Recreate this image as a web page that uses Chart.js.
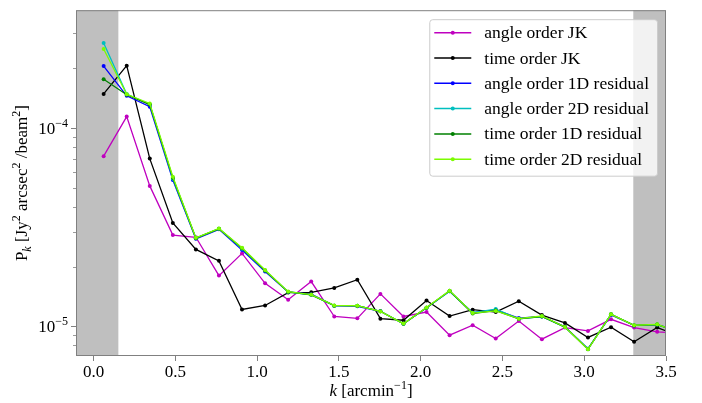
<!DOCTYPE html>
<html>
<head>
<meta charset="utf-8">
<script src="https://cdn.jsdelivr.net/npm/chart.js@4/dist/chart.umd.min.js"></script>
<style>
  body { margin: 0; background: #fff; }
  #wrap { width: 702px; height: 403px; }
</style>
</head>
<body>
<div id="wrap"><canvas id="myChart"></canvas></div>
<script>
// k bins (arcmin^-1); the last one sits just past the axis and is clipped
const kValues = [0.062, 0.203, 0.344, 0.485, 0.626, 0.767, 0.908, 1.049, 1.190, 1.331, 1.472, 1.613, 1.754,
  1.895, 2.036, 2.177, 2.318, 2.459, 2.600, 2.741, 2.882, 3.023, 3.164, 3.305, 3.446, 3.587];

const angleJK = [7.20e-5, 1.14e-4, 5.10e-5, 2.88e-5, 2.81e-5, 1.80e-5, 2.33e-5, 1.645e-5, 1.36e-5, 1.68e-5, 1.12e-5, 1.096e-5, 1.456e-5,
  1.12e-5, 1.179e-5, 9.02e-6, 1.012e-5, 8.68e-6, 1.063e-5, 8.61e-6, 9.85e-6, 9.47e-6, 1.084e-5, 9.85e-6, 9.37e-6, 9.2e-6];
const timeJK = [1.484e-4, 2.06e-4, 7.00e-5, 3.32e-5, 2.44e-5, 2.136e-5, 1.216e-5, 1.273e-5, 1.478e-5, 1.483e-5, 1.56e-5, 1.717e-5, 1.092e-5,
  1.072e-5, 1.349e-5, 1.126e-5, 1.212e-5, 1.179e-5, 1.338e-5, 1.139e-5, 1.039e-5, 8.78e-6, 9.89e-6, 8.35e-6, 9.85e-6, 8.9e-6];
const angle1D = [2.05e-4, 1.451e-4, 1.279e-4, 5.46e-5, 2.76e-5, 3.08e-5, 2.42e-5, 1.89e-5, 1.49e-5, 1.45e-5, 1.27e-5, 1.26e-5, 1.19e-5,
  1.03e-5, 1.24e-5, 1.50e-5, 1.17e-5, 1.21e-5, 1.10e-5, 1.12e-5, 9.95e-6, 7.7e-6, 1.14e-5, 1.01e-5, 1.02e-5, 9.4e-6];
const angle2D = [2.68e-4, 1.48e-4, 1.313e-4, 5.54e-5, 2.78e-5, 3.10e-5, 2.46e-5, 1.91e-5, 1.49e-5, 1.44e-5, 1.27e-5, 1.27e-5, 1.19e-5,
  1.03e-5, 1.24e-5, 1.50e-5, 1.17e-5, 1.22e-5, 1.09e-5, 1.12e-5, 9.9e-6, 7.7e-6, 1.15e-5, 1.01e-5, 1.02e-5, 9.3e-6];
const time1D = [1.757e-4, 1.47e-4, 1.31e-4, 5.60e-5, 2.78e-5, 3.10e-5, 2.47e-5, 1.91e-5, 1.49e-5, 1.44e-5, 1.27e-5, 1.27e-5, 1.19e-5,
  1.03e-5, 1.24e-5, 1.51e-5, 1.16e-5, 1.20e-5, 1.09e-5, 1.12e-5, 9.9e-6, 7.66e-6, 1.15e-5, 1.01e-5, 1.02e-5, 9.3e-6];
const time2D = [2.50e-4, 1.478e-4, 1.328e-4, 5.67e-5, 2.79e-5, 3.11e-5, 2.49e-5, 1.92e-5, 1.495e-5, 1.445e-5, 1.273e-5, 1.269e-5, 1.188e-5,
  1.031e-5, 1.244e-5, 1.512e-5, 1.165e-5, 1.195e-5, 1.092e-5, 1.126e-5, 9.92e-6, 7.65e-6, 1.148e-5, 1.012e-5, 1.023e-5, 9.3e-6];

const seriesLabels = ["angle order JK", "time order JK", "angle order 1D residual",
  "angle order 2D residual", "time order 1D residual", "time order 2D residual"];
const seriesData = [angleJK, timeJK, angle1D, angle2D, time1D, time2D];
const seriesColors = ["#bf00bf", "#000000", "#0000ff", "#00bfbf", "#008000", "#7cfc00"];

const xTicks = [0, 0.5, 1.0, 1.5, 2.0, 2.5, 3.0, 3.5];
const yMajor = [1e-5, 1e-4];
const yMinor = [8e-6, 9e-6, 2e-5, 3e-5, 4e-5, 5e-5, 6e-5, 7e-5, 8e-5, 9e-5, 2e-4, 3e-4];
const xRange = [-0.107, 3.5];
const yRange = [7.08e-6, 3.92e-4];
const maskLow = 0.152;   // shaded k ranges
const maskHigh = 3.30;

const FONT = "'Liberation Serif', 'Times New Roman', serif";
const AXIS = "#808080";

// draw a row of text pieces (sub/superscripts) starting at x, or centred / right aligned
function drawRuns(ctx, runs, x, y, align) {
  let w = 0;
  runs.forEach(r => {
    ctx.font = (r.italic ? "italic " : "") + r.size + "px " + FONT;
    r.w = ctx.measureText(r.t).width;
    w += r.w;
  });
  let cx = align === "center" ? x - w / 2 : align === "right" ? x - w : x;
  ctx.textBaseline = "alphabetic";
  ctx.textAlign = "left";
  runs.forEach(r => {
    ctx.font = (r.italic ? "italic " : "") + r.size + "px " + FONT;
    ctx.fillText(r.t, cx, y + (r.dy || 0));
    cx += r.w;
  });
}

const overlay = {
  id: "overlay",
  beforeDatasetsDraw(chart) {
    const { ctx, chartArea: a, scales: { x } } = chart;
    ctx.save();
    ctx.fillStyle = "#bfbfbf";
    const x1 = x.getPixelForValue(maskLow);
    ctx.fillRect(a.left, a.top, x1 - a.left, a.bottom - a.top);
    const x2 = x.getPixelForValue(maskHigh);
    ctx.fillRect(x2, a.top, a.right - x2, a.bottom - a.top);
    ctx.restore();
  },
  afterDatasetsDraw(chart) {
    const { ctx, chartArea: a, scales: { y } } = chart;
    ctx.save();
    // frame
    ctx.strokeStyle = AXIS;
    ctx.lineWidth = 1;
    ctx.strokeRect(a.left + 0.5, a.top + 0.5, a.right - a.left - 1, a.bottom - a.top - 1);

    // y ticks
    yMajor.forEach(v => {
      const py = Math.round(y.getPixelForValue(v)) + 0.5;
      ctx.beginPath(); ctx.moveTo(a.left - 5, py); ctx.lineTo(a.left, py); ctx.stroke();
    });
    ctx.lineWidth = 0.8;
    yMinor.forEach(v => {
      const py = Math.round(y.getPixelForValue(v)) + 0.5;
      ctx.beginPath(); ctx.moveTo(a.left - 3, py); ctx.lineTo(a.left, py); ctx.stroke();
    });

    // y tick labels
    ctx.fillStyle = "#000";
    yMajor.forEach(v => {
      const py = y.getPixelForValue(v);
      const e = Math.round(Math.log10(v));
      drawRuns(ctx, [{ t: "10", size: 17 }, { t: "\u2212" + Math.abs(e), size: 12, dy: -7 }], a.left - 8, py + 6, "right");
    });

    // x title
    drawRuns(ctx, [{ t: "k", size: 17, italic: true }, { t: " [arcmin", size: 17 },
      { t: "\u22121", size: 12, dy: -7 }, { t: "]", size: 17 }], (a.left + a.right) / 2, 396, "center");

    // y title
    ctx.translate(27, (a.top + a.bottom) / 2);
    ctx.rotate(-Math.PI / 2);
    drawRuns(ctx, [{ t: "P", size: 17 }, { t: "k", size: 12, italic: true, dy: 4 }, { t: " [Jy", size: 17 },
      { t: "2", size: 12, dy: -7 }, { t: " arcsec", size: 17 }, { t: "2", size: 12, dy: -7 },
      { t: " /beam", size: 17 }, { t: "2", size: 12, dy: -7 }, { t: "]", size: 17 }], 0, 0, "center");
    ctx.restore();

    // legend
    ctx.save();
    const legendFont = "17.5px " + FONT;
    ctx.font = legendFont;
    const ds = chart.data.datasets;
    const maxW = Math.max(...ds.map(d => ctx.measureText(d.label).width));
    const handle = 37, gap = 13, padL = 5, padR = 8, rowH = 25.3;
    const boxW = padL + handle + gap + maxW + padR;
    const boxH = 13.5 + (ds.length - 1) * rowH + 16.5;
    const bx = a.right - 9 - boxW, by = a.top + 9;
    ctx.beginPath();
    ctx.roundRect(bx + 0.5, by + 0.5, boxW, boxH, 3);
    ctx.fillStyle = "rgba(255,255,255,0.8)";
    ctx.fill();
    ctx.strokeStyle = "#cccccc";
    ctx.lineWidth = 1;
    ctx.stroke();
    ds.forEach((d, i) => {
      const ry = by + 13.5 + i * rowH;
      const hx = bx + padL;
      ctx.strokeStyle = d.borderColor;
      ctx.lineWidth = 1.5;
      ctx.beginPath(); ctx.moveTo(hx, ry); ctx.lineTo(hx + handle, ry); ctx.stroke();
      ctx.fillStyle = d.borderColor;
      ctx.beginPath(); ctx.arc(hx + handle / 2, ry, 2, 0, Math.PI * 2); ctx.fill();
      ctx.fillStyle = "#000";
      ctx.font = legendFont;
      ctx.textBaseline = "middle";
      ctx.fillText(d.label, hx + handle + gap, ry + 1);
    });
    ctx.restore();
  }
};

const datasets = seriesLabels.map((label, i) => ({
  label: label,
  data: kValues.map((k, j) => ({ x: k, y: seriesData[i][j] })),
  borderColor: seriesColors[i],
  backgroundColor: seriesColors[i],
  borderWidth: 1.3,
  pointRadius: 2,
  pointBorderWidth: 0,
  pointHoverRadius: 2,
  tension: 0,
  fill: false,
  order: seriesLabels.length - i
}));

const ctx = document.getElementById("myChart").getContext("2d");
new Chart(ctx, {
  type: "line",
  data: { datasets: datasets },
  options: {
    responsive: true,
    maintainAspectRatio: false,
    animation: false,
    layout: { padding: { left: 0, right: 36, top: 7, bottom: 0 } },
    plugins: { legend: { display: false }, tooltip: { enabled: false } },
    scales: {
      x: {
        type: "linear",
        min: xRange[0],
        max: xRange[1],
        afterBuildTicks: s => { s.ticks = xTicks.map(v => ({ value: v })); },
        afterFit: s => { s.height = 47; },
        border: { display: false },
        grid: { drawOnChartArea: false, drawTicks: true, tickLength: 5, tickColor: AXIS, tickWidth: 1 },
        ticks: {
          color: "#000",
          font: { family: FONT, size: 17 },
          padding: 1,
          maxRotation: 0,
          callback: v => v.toFixed(1)
        }
      },
      y: {
        type: "logarithmic",
        min: yRange[0],
        max: yRange[1],
        afterBuildTicks: s => { s.ticks = yMajor.map(v => ({ value: v })); },
        afterFit: s => { s.width = 76; },
        border: { display: false },
        grid: { display: false },
        ticks: { callback: () => "" }
      }
    }
  },
  plugins: [overlay]
});
</script>
</body>
</html>
